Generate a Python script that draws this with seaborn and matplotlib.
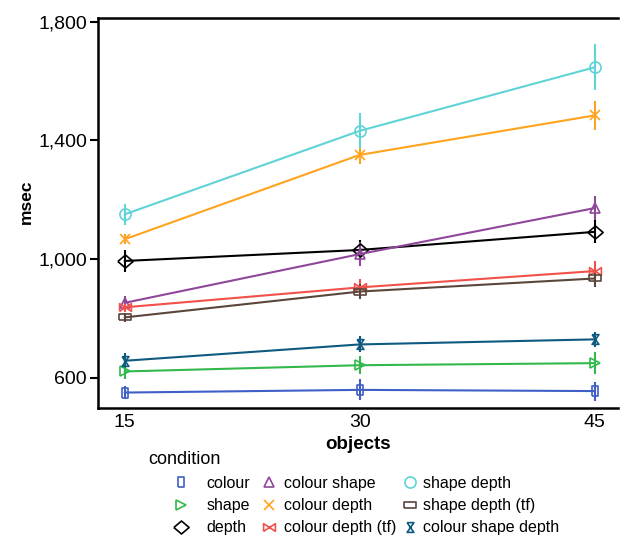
import numpy as np
import pandas as pd
import matplotlib
matplotlib.use("Agg")
import matplotlib.pyplot as plt
from matplotlib.path import Path
from matplotlib.lines import Line2D
from matplotlib.ticker import StrMethodFormatter
import seaborn as sns

# DATA
objects = [15, 30, 45]
conditions = ["colour", "shape", "depth",
              "colour shape", "colour depth", "colour depth (tf)",
              "shape depth", "shape depth (tf)", "colour shape depth"]
colour = [551, 560, 556]
shape = [622, 643, 650]
depth = [994, 1031, 1092]
colour_shape = [853, 1017, 1172]
colour_depth = [1067, 1351, 1484]
colour_depth_tf = [838, 905, 960]
shape_depth = [1151, 1432, 1646]
shape_depth_tf = [804, 891, 935]
colour_shape_depth = [658, 713, 730]

colour_err = [22, 35, 32]
shape_err = [27, 30, 36]
depth_err = [38, 34, 39]
colour_shape_err = [22, 40, 40]
colour_depth_err = [17, 30, 48]
colour_depth_tf_err = [17, 27, 34]
shape_depth_err = [35, 59, 78]
shape_depth_tf_err = [15, 26, 30]
colour_shape_depth_err = [25, 27, 26]

means = [colour, shape, depth, colour_shape, colour_depth, colour_depth_tf,
         shape_depth, shape_depth_tf, colour_shape_depth]
errs = [colour_err, shape_err, depth_err, colour_shape_err, colour_depth_err,
        colour_depth_tf_err, shape_depth_err, shape_depth_tf_err, colour_shape_depth_err]

rows = []
for c, m, e in zip(conditions, means, errs):
    for x, v, s in zip(objects, m, e):
        rows.append({"condition": c, "objects": x, "msec": v, "err": s})
df = pd.DataFrame(rows)

# STYLE
colors = ["#3f5fc7", "#33b84c", "#000000", "#8f479a", "#ffa31f",
          "#f2504b", "#5fd3d6", "#5b463c", "#0f5a80"]
markers = [
    Path([(-0.35, -0.5), (0.35, -0.5), (0.35, 0.5), (-0.35, 0.5), (-0.35, -0.5)]),
    ">",
    Path([(-1, 0), (0, 0.85), (1, 0), (0, -0.85), (-1, 0)]),
    "^",
    "x",
    Path([(-1, -0.65), (1, 0.65), (1, -0.65), (-1, 0.65), (-1, -0.65)]),
    "o",
    Path([(-0.5, -0.25), (0.5, -0.25), (0.5, 0.25), (-0.5, 0.25), (-0.5, -0.25)]),
    Path([(-0.35, 0.5), (0.35, 0.5), (-0.35, -0.5), (0.35, -0.5), (-0.35, 0.5)]),
]
msizes = [7, 6.5, 11, 7.5, 6.5, 8.5, 8, 8.5, 7]

sns.set_style("ticks")
plt.rcParams["font.family"] = ["Liberation Sans", "DejaVu Sans"]
plt.rcParams["text.color"] = "black"
plt.rcParams["xtick.color"] = "black"
plt.rcParams["ytick.color"] = "black"
plt.rcParams["axes.labelcolor"] = "black"

fig = plt.figure(figsize=(6.2, 5.36), dpi=100)
ax = fig.add_axes([98 / 620, 1 - 408 / 536, 1 - 98 / 620 - 0.003, (408 - 18) / 536])

# ERROR BARS + LINES
for c, col, mk, ms in zip(conditions, colors, markers, msizes):
    sub = df[df["condition"] == c]
    ax.vlines(sub["objects"], sub["msec"] - sub["err"], sub["msec"] + sub["err"],
              color=col, lw=1.5, zorder=2)
    sns.lineplot(data=sub, x="objects", y="msec", ax=ax, color=col, lw=1.5,
                 marker=mk, markersize=ms, markerfacecolor="none",
                 markeredgecolor=col, markeredgewidth=1.2, zorder=3)

ax.set_xlim(13.3, 46.5)
ax.set_ylim(499, 1812)
ax.set_xticks(objects)
ax.set_yticks([600, 1000, 1400, 1800])
ax.yaxis.set_major_formatter(StrMethodFormatter("{x:,.0f}"))
ax.tick_params(axis="x", length=0, labelsize=14, pad=4)
ax.tick_params(axis="y", length=6, width=1.5, labelsize=14, pad=2)
for s in ["left", "bottom", "top"]:
    ax.spines[s].set_linewidth(1.8)
    ax.spines[s].set_color("black")
ax.spines["right"].set_visible(False)

ax.set_xlabel("objects", fontsize=13.5, fontweight="bold", labelpad=4)
ax.set_ylabel("msec", fontsize=12.5, fontweight="bold", labelpad=2)
ax.yaxis.set_label_coords(-0.123, 0.53)

# LEGEND (three columns)
fig.text(148 / 620, 1 - 459 / 536, "condition", fontsize=13, va="center", ha="left")
col_pos = [(172.7, 1.1), (260.7, 0.45), (401.7, 0.33)]
for j, (xl, pad) in enumerate(col_pos):
    handles = []
    for i in range(3 * j, 3 * j + 3):
        handles.append(Line2D([], [], color=colors[i], marker=markers[i], linestyle="none",
                              markersize=msizes[i], markerfacecolor="none",
                              markeredgecolor=colors[i], markeredgewidth=1.2,
                              label=conditions[i]))
    fig.legend(handles=handles, loc="upper left",
               bbox_to_anchor=(xl / 620, 1 - 476 / 536), frameon=False,
               fontsize=11.5, handlelength=1.0, handletextpad=pad,
               labelspacing=0.45, borderpad=0, borderaxespad=0)

fig.savefig("out.png", dpi=100)
